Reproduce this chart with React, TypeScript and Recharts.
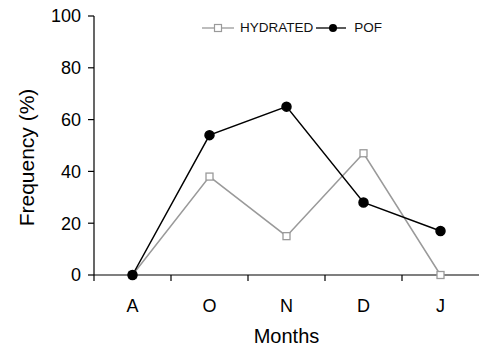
import { LineChart, Line, XAxis, YAxis, Legend, Label } from "recharts";

const months = ["A", "O", "N", "D", "J"];
const hydrated = [0, 38, 15, 47, 0];
const pof = [0, 54, 65, 28, 17];
const yTicks = [0, 20, 40, 60, 80, 100];
const monthIdx = [0, 1, 2, 3, 4];
const bandEdges = [-0.5, 0.5, 1.5, 2.5, 3.5];

const data = months.map((m, i) => ({ idx: monthIdx[i], month: m, hydrated: hydrated[i], pof: pof[i] }));

const FONT = "'Liberation Sans', Arial, sans-serif";
const GRAY = "#9a9a9a";

const SquareDot = (props: any) => {
    const { cx, cy, index } = props;
    if (cx == null || cy == null) return null;
    return <rect key={`sq-${index}`} x={cx - 3.5} y={cy - 3.5} width={7} height={7} fill="#fff" stroke={GRAY} strokeWidth={1.3} />;
};

function LegendBox() {
    return (
        <div style={{ display: "flex", alignItems: "center", fontFamily: FONT, fontSize: 13.5, color: "#111" }}>
            <svg width={32} height={12}>
                <line x1={0} y1={6} x2={32} y2={6} stroke={GRAY} strokeWidth={1.3} />
                <rect x={12.5} y={2.5} width={7} height={7} fill="#fff" stroke={GRAY} strokeWidth={1.2} />
            </svg>
            <span style={{ marginLeft: 6, marginRight: 3 }}>HYDRATED</span>
            <svg width={30} height={12}>
                <line x1={0} y1={6} x2={30} y2={6} stroke="#000" strokeWidth={1.3} />
                <circle cx={17} cy={6} r={4} fill="#000" />
            </svg>
            <span style={{ marginLeft: 8 }}>POF</span>
        </div>
    );
}

export default function App() {
    return (
        <div style={{ position: "fixed", left: 0, top: 0, width: 483, height: 350, background: "#fff" }}>
            <LineChart width={483} height={350} data={data} margin={{ top: 16, right: 4, left: 0, bottom: 0 }} style={{ fontFamily: FONT }}>
                <XAxis
                    xAxisId="a_edges"
                    dataKey="idx"
                    type="number"
                    domain={[-0.5, 4.5]}
                    ticks={bandEdges}
                    tickFormatter={() => ""}
                    axisLine={{ stroke: "#000", strokeWidth: 1.2 }}
                    tickSize={6}
                    tickLine={{ stroke: "#000", strokeWidth: 1.2 }}
                    height={1}
                />
                <XAxis
                    xAxisId="b_months"
                    dataKey="idx"
                    type="number"
                    domain={[-0.5, 4.5]}
                    ticks={monthIdx}
                    tickFormatter={(v: number) => months[v]}
                    tickLine={false}
                    tickSize={6}
                    tickMargin={17}
                    height={74}
                    axisLine={false}
                    tick={{ fill: "#000", fontSize: 18 }}
                >
                    <Label value="Months" position="insideBottom" offset={7} style={{ fontSize: 20, fill: "#000" }} />
                </XAxis>
                <YAxis
                    width={94}
                    domain={[0, 100]}
                    ticks={yTicks}
                    tickSize={6}
                    tickMargin={7}
                    axisLine={{ stroke: "#000", strokeWidth: 1.2 }}
                    tickLine={{ stroke: "#000", strokeWidth: 1.2 }}
                    tick={{ fill: "#000", fontSize: 18 }}
                >
                    <Label value="Frequency (%)" angle={-90} position="insideLeft" offset={27} dy={12} style={{ fontSize: 21, fill: "#000", textAnchor: "middle" }} />
                </YAxis>
                <Legend
                    layout="horizontal"
                    verticalAlign="middle"
                    align="center"
                    content={() => <LegendBox />}
                    wrapperStyle={{ top: 20, left: 202, width: "auto" }}
                />
                <Line xAxisId="b_months" dataKey="hydrated" name="HYDRATED" stroke={GRAY} strokeWidth={1.5} dot={SquareDot} isAnimationActive={false} />
                <Line xAxisId="b_months" dataKey="pof" name="POF" stroke="#000" strokeWidth={1.5} dot={{ r: 4.5, fill: "#000", stroke: "#000" }} isAnimationActive={false} />
            </LineChart>
        </div>
    );
}
